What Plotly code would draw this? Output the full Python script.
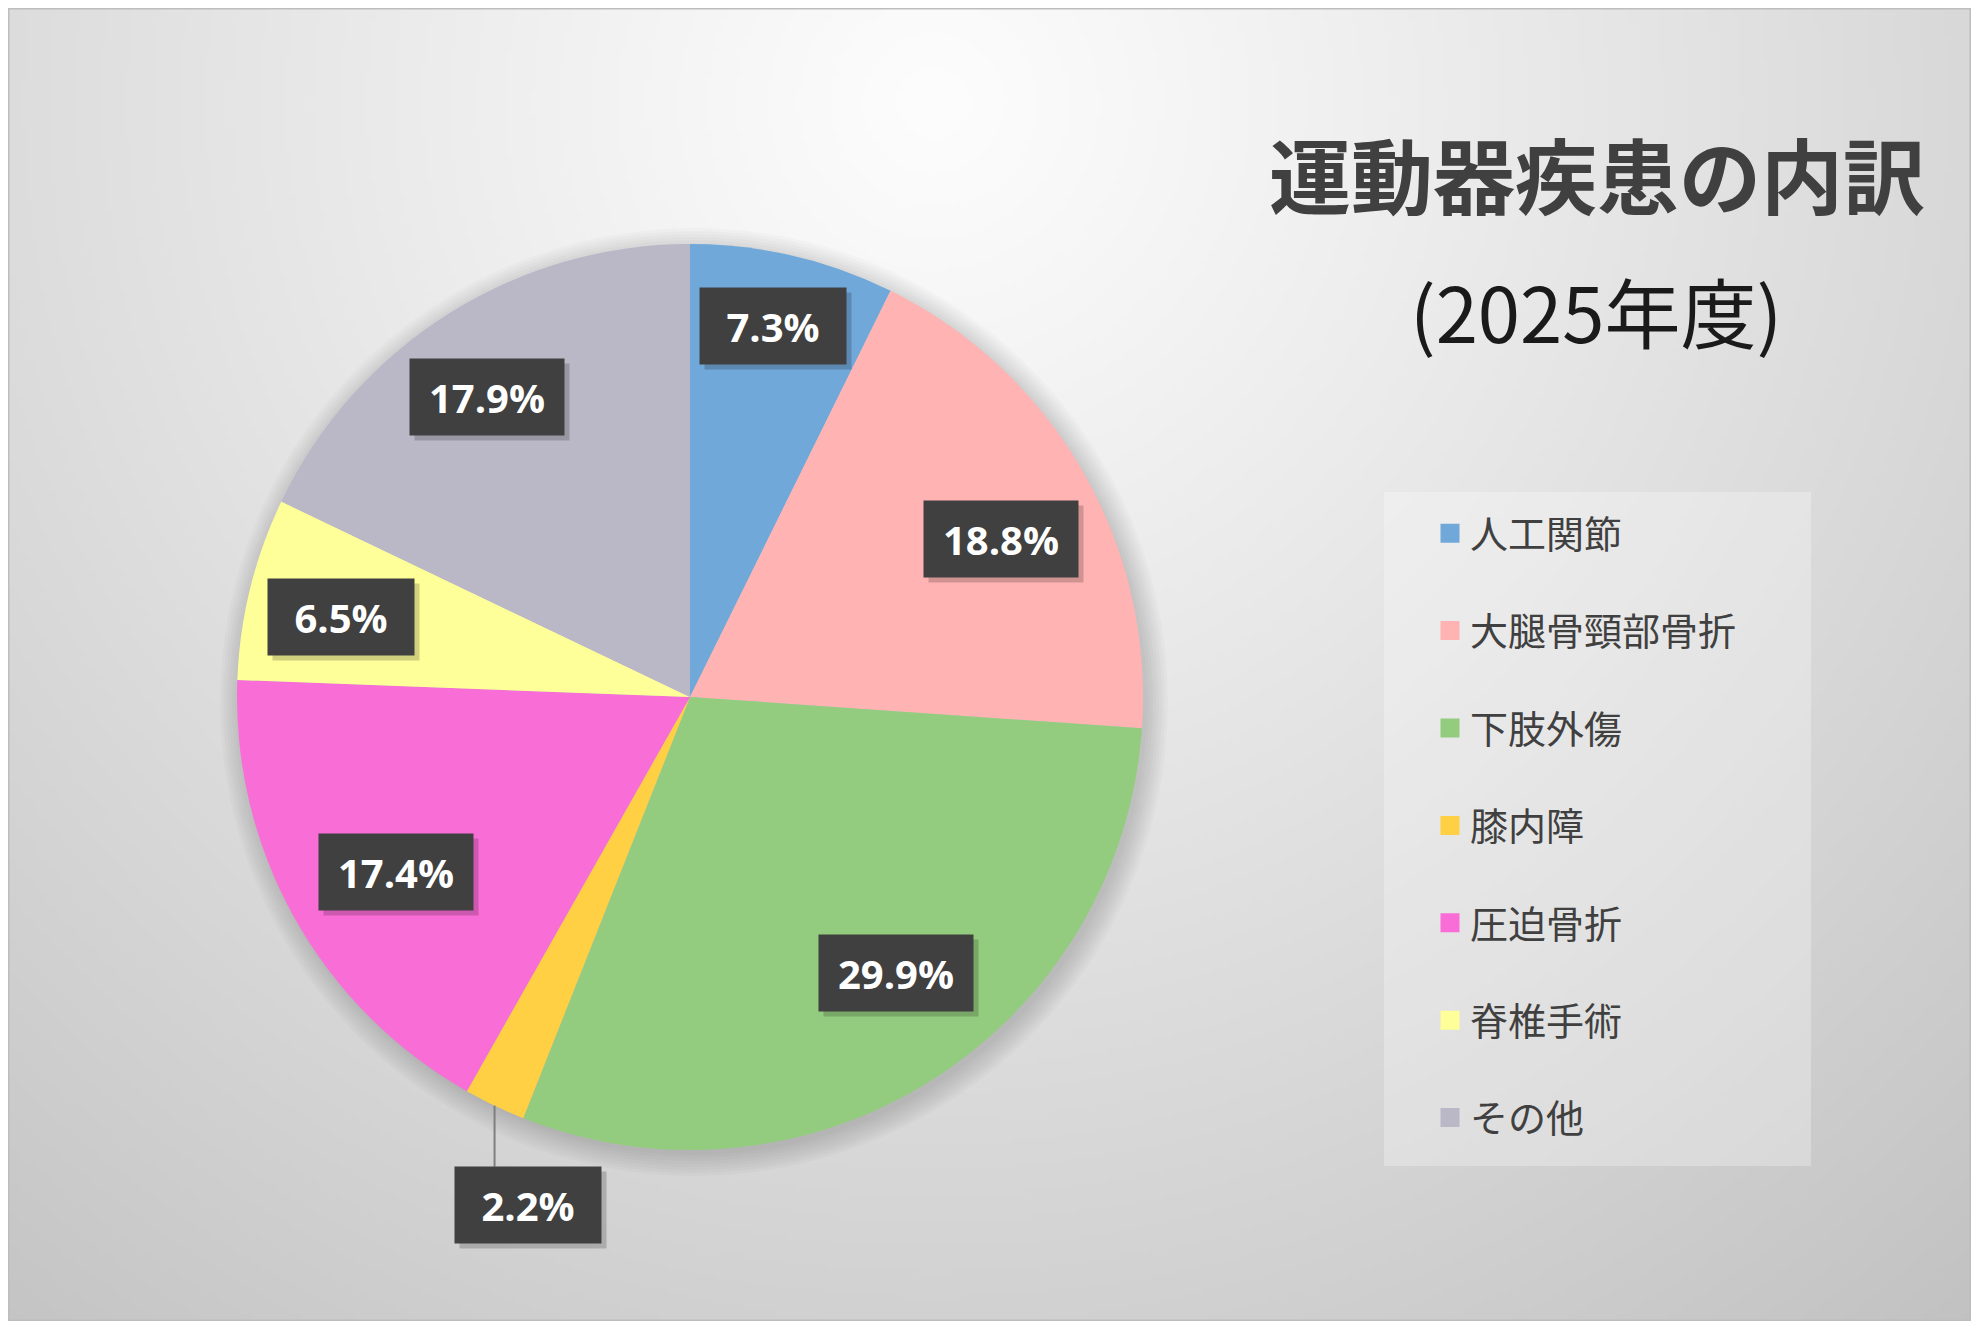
import base64
import math
import struct
import zlib

import numpy as np
import plotly.graph_objects as go

# データ (2025年度)
categories = ["人工関節", "大腿骨頸部骨折", "下肢外傷", "膝内障", "圧迫骨折", "脊椎手術", "その他"]
shares = [7.3, 18.8, 29.9, 2.2, 17.4, 6.5, 17.9]
colors = ["#70A8DA", "#FFB3B3", "#93CC7E", "#FFCF44", "#F96DD6", "#FFFF99", "#BAB7C7"]

title_main = "運動器疾患の内訳"
title_sub = "(2025年度)"

# ラベル配置 (半径の割合, 角度の補正[度]); None は外側に引き出し線
label_radius = [0.84, 0.77, 0.76, None, 0.755, 0.79, 0.80]
label_turn = [-0.5, 2.9, -4.5, 0, -1.6, -0.9, -1.8]

W, H = 1979, 1329
M = 8  # ページ本体の余白
FW, FH = W - 2 * M, H - 2 * M
CX, CY, R = 690, 697, 453  # 円グラフの中心と半径 (ページ上の px)


# 背景のグラデーション (PNG を自前で作る)
def gradient_uri():
    w, h = FW // 5, FH // 5
    yy, xx = np.mgrid[0:h, 0:w]
    d = np.hypot(xx * 5 + M - 930, yy * 5 + M - 100) / 1542
    v = np.clip(253 - 57 * d ** 1.1, 0, 255).astype(np.uint8)
    img = np.dstack([v, v, v])
    raw = b"".join(b"\x00" + row.tobytes() for row in img)

    def chunk(tag, data):
        return struct.pack(">I", len(data)) + tag + data + struct.pack(">I", zlib.crc32(tag + data) & 0xFFFFFFFF)

    png = (b"\x89PNG\r\n\x1a\n"
           + chunk(b"IHDR", struct.pack(">IIBBBBB", w, h, 8, 2, 0, 0, 0))
           + chunk(b"IDAT", zlib.compress(raw, 9))
           + chunk(b"IEND", b""))
    return "data:image/png;base64," + base64.b64encode(png).decode()


def px(x, y):
    return (x - M) / FW, 1 - (y - M) / FH


fig = go.Figure()

dx0, dy0 = px(CX - R, CY + R)
dx1, dy1 = px(CX + R, CY - R)
fig.add_trace(go.Pie(
    labels=categories,
    values=shares,
    sort=False,
    direction="clockwise",
    rotation=0,
    marker=dict(colors=colors, line=dict(width=0)),
    textinfo="none",
    showlegend=False,
    domain=dict(x=[dx0, dx1], y=[dy0, dy1]),
))

# 凡例用のダミー
for name, col in zip(categories, colors):
    fig.add_trace(go.Scatter(
        x=[None], y=[None], mode="markers", name=name, legendgroup=name,
        marker=dict(symbol="square", size=20, color=col, line=dict(color=col, width=3)),
    ))

# ラベル
annotations = []
shapes = []
total = sum(shares)
cum = 0
for val, f, turn in zip(shares, label_radius, label_turn):
    mid = (cum + val / 2) / total * 2 * math.pi
    cum += val
    text = f"{val:.1f}%"
    bw = 146 + 8 * (len(text) - 4)
    if f is None:
        ex = CX + R * math.sin(mid)
        ey = CY - R * math.cos(mid)
        lx, ly = px(ex, ey)
        bx, by = px(ex, ey + 61)
        shapes.append(dict(type="line", xref="paper", yref="paper", x0=lx, y0=ly, x1=bx, y1=by,
                           line=dict(color="#7F7F7F", width=2), layer="above"))
        ax, ay = px(ex + 33, ey + 61 + 38)
    else:
        a = mid + math.radians(turn)
        ax, ay = px(CX + f * R * math.sin(a), CY - f * R * math.cos(a))
    common = dict(x=ax, y=ay, xref="paper", yref="paper", showarrow=False,
                  xanchor="center", yanchor="middle", width=bw, height=76, borderpad=0)
    annotations.append(dict(common, text="", bgcolor="rgba(0,0,0,0.18)", xshift=5, yshift=-5))
    annotations.append(dict(common, text=text, bgcolor="#404040",
                            font=dict(family="Open Sans", size=40, color="white", weight="bold")))

tx, ty = px(1597, 172)
annotations.append(dict(x=tx, y=ty, xref="paper", yref="paper", text=title_main,
                        showarrow=False, xanchor="center", yanchor="middle",
                        font=dict(family="Noto Sans CJK JP", size=82, color="#404040", weight="bold")))
sx, sy = px(1596, 310)
annotations.append(dict(x=sx, y=sy, xref="paper", yref="paper", text=title_sub,
                        showarrow=False, xanchor="center", yanchor="middle",
                        font=dict(family="Noto Sans CJK JP", size=76, color="#1A1A1A")))

# 円グラフの影
for i in range(8):
    r = R + 3 * i
    sx0, sy0 = px(CX + 4 - r, CY + 5 + r)
    sx1, sy1 = px(CX + 4 + r, CY + 5 - r)
    shapes.insert(0, dict(type="circle", xref="paper", yref="paper", x0=sx0, y0=sy0, x1=sx1, y1=sy1,
                          fillcolor="rgba(0,0,0,0.02)", line=dict(width=0), layer="below"))

# 凡例の背景
lx0, ly0 = px(1384, 1166)
lx1, ly1 = px(1811, 492)
shapes.append(dict(type="rect", xref="paper", yref="paper", x0=lx0, y0=ly0, x1=lx1, y1=ly1,
                   fillcolor="rgba(255,255,255,0.28)", line=dict(width=0), layer="below"))
# 外枠
shapes.append(dict(type="rect", xref="paper", yref="paper", x0=0, y0=0, x1=1, y1=1,
                   line=dict(color="#BDBDBD", width=3), layer="above"))

gx, gy = px(1430, 502)
fig.update_layout(
    width=FW,
    height=FH,
    margin=dict(l=0, r=0, t=0, b=0),
    paper_bgcolor="#DDDDDD",
    plot_bgcolor="rgba(0,0,0,0)",
    xaxis=dict(visible=False),
    yaxis=dict(visible=False),
    images=[dict(source=gradient_uri(), xref="paper", yref="paper", x=0, y=1, sizex=1, sizey=1,
                 sizing="stretch", layer="below", xanchor="left", yanchor="top")],
    shapes=shapes,
    annotations=annotations,
    legend=dict(
        x=gx, y=gy, xanchor="left", yanchor="top",
        bgcolor="rgba(0,0,0,0)",
        font=dict(family="Noto Sans CJK JP", size=38, color="#404040"),
        tracegroupgap=45,
        traceorder="grouped",
    ),
    hovermode=False,
)

fig.write_html("out.html")
